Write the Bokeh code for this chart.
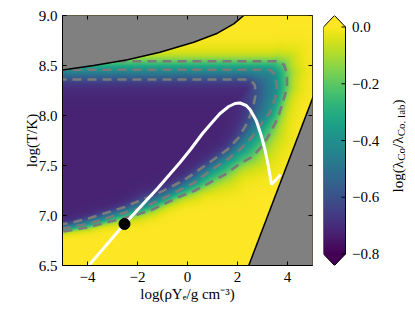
import math
import numpy as np
from bokeh.plotting import figure
from bokeh.layouts import row
from bokeh.models import LinearColorMapper, FixedTicker, Range1d, Label
from bokeh.core.properties import value
from bokeh.palettes import Viridis256
from bokeh.embed import file_html
from bokeh.resources import INLINE

# ---------------- data ----------------
x_ticks = [-4, -2, 0, 2, 4]
x_tick_labels = ["−4", "−2", "0", "2", "4"]
t_ticks = [6.5, 7.0, 7.5, 8.0, 8.5, 9.0]
t_tick_labels = ["6.5", "7.0", "7.5", "8.0", "8.5", "9.0"]
cb_ticks = [-0.8, -0.6, -0.4, -0.2, 0.0]
cb_tick_labels = ["−0.8", "−0.6", "−0.4", "−0.2", "0.0"]

# excluded region, upper left (boundary curve)
upper_bound_x = [-5.0, -3.75, -2.4, -1.1, 0.25, 1.2, 1.85, 2.25]
upper_bound_t = [8.455, 8.50, 8.557, 8.633, 8.733, 8.823, 8.917, 9.0]
# excluded region, lower right (boundary line)
lower_bound_x = [2.45, 5.0]
lower_bound_t = [6.5, 8.17]

# contour lines of log(lambda/lambda_lab), clockwise from the top-left
c06_x = [-5.2, 2.3, 2.55, 2.70, 2.72, 2.62, 2.40, 2.05, 1.60, 1.10, 0.65, 0.25,
         -0.10, -0.70, -1.20, -1.90, -2.50, -3.20, -3.90, -4.60, -5.20]
c06_t = [8.36, 8.36, 8.35, 8.30, 8.20, 8.08, 7.93, 7.78, 7.66, 7.57, 7.49, 7.42,
         7.36, 7.28, 7.22, 7.15, 7.085, 7.03, 6.975, 6.93, 6.905]
c04_x = [-5.2, 3.30, 3.50, 3.58, 3.52, 3.30, 2.95, 2.60, 2.10, 1.60, 1.05, 0.60,
         0.30, -0.35, -0.90, -1.50, -2.20, -2.90, -3.50, -4.20, -5.20]
c04_t = [8.457, 8.457, 8.41, 8.30, 8.18, 8.03, 7.92, 7.79, 7.66, 7.56, 7.47, 7.39,
         7.33, 7.25, 7.18, 7.11, 7.05, 7.00, 6.95, 6.905, 6.86]
c02_x = [-5.2, 3.55, 3.85, 3.98, 3.98, 3.80, 3.60, 3.32, 3.00, 2.60, 2.05, 1.50,
         0.90, 0.30, -0.30, -0.90, -1.40, -2.00, -2.60, -3.40, -4.00, -5.20]
c02_t = [8.543, 8.543, 8.51, 8.42, 8.28, 8.12, 7.97, 7.83, 7.70, 7.59, 7.51, 7.41,
         7.33, 7.25, 7.19, 7.12, 7.06, 7.01, 6.97, 6.92, 6.88, 6.83]
levels = [-0.6, -0.4, -0.2]
core_value = -0.72

# trajectory (white curve) and marked point
traj_x = [-3.95, -2.52, -1.20, -0.30, 0.12, 0.60, 1.05, 1.30, 1.65, 1.90, 2.10, 2.35,
          2.50, 2.75, 2.95, 3.10, 3.22, 3.30, 3.36, 3.55, 3.72]
traj_t = [6.50, 6.915, 7.27, 7.53, 7.66, 7.82, 7.95, 8.02, 8.09, 8.12, 8.125, 8.10,
          8.06, 7.95, 7.80, 7.66, 7.51, 7.40, 7.31, 7.36, 7.41]
point_x = [-2.52]
point_t = [6.915]

X0, X1, T0, T1 = -5.0, 5.0, 6.5, 9.0
VMIN, VMAX = -0.8, 0.0

# ---------------- field interpolated between the read contours ----------------
NX, NY = 250, 250
SX, ST = 250 / (X1 - X0), 250 / (T1 - T0)   # px per unit
xs = X0 + (np.arange(NX) + 0.5) * (X1 - X0) / NX
ts = T0 + (np.arange(NY) + 0.5) * (T1 - T0) / NY
XX, TT = np.meshgrid(xs, ts)
P = np.stack([(XX.ravel() - X0) * SX, (TT.ravel() - T0) * ST], axis=1)


def to_px(xa, ta):
    return np.stack([(np.asarray(xa) - X0) * SX, (np.asarray(ta) - T0) * ST], axis=1)


def poly_dist(P, V):
    A, B = V[:-1], V[1:]
    AB = B - A
    AP = P[:, None, :] - A[None, :, :]
    den = (AB ** 2).sum(1)
    den[den == 0] = 1e-9
    t = np.clip((AP * AB[None]).sum(2) / den[None], 0, 1)
    C = A[None] + t[..., None] * AB[None]
    return np.sqrt(((P[:, None, :] - C) ** 2).sum(2)).min(1)


def inside(P, V):
    Vc = np.vstack([V, V[:1]])
    x, y = P[:, 0][:, None], P[:, 1][:, None]
    x1, y1 = Vc[:-1, 0][None], Vc[:-1, 1][None]
    x2, y2 = Vc[1:, 0][None], Vc[1:, 1][None]
    cond = (y1 > y) != (y2 > y)
    dy = np.where(y2 == y1, 1e-9, y2 - y1)
    xint = x1 + (y - y1) * (x2 - x1) / dy
    return ((cond & (x < xint)).sum(1) % 2) == 1


V3, V2, V1 = to_px(c06_x, c06_t), to_px(c04_x, c04_t), to_px(c02_x, c02_t)
d1, d2, d3 = poly_dist(P, V1), poly_dist(P, V2), poly_dist(P, V3)
in1, in2, in3 = inside(P, V1), inside(P, V2), inside(P, V3)
l3, l2, l1 = levels
v = np.zeros(len(P))
m = ~in1
s = np.maximum(d2 - d1, 2.0)
v[m] = l1 * np.exp(-d1[m] / (0.8 * s[m]))
m = in1 & ~in2
v[m] = l1 + (l2 - l1) * d1[m] / (d1[m] + d2[m] + 1e-9)
m = in2 & ~in3
v[m] = l2 + (l3 - l2) * d2[m] / (d2[m] + d3[m] + 1e-9)
m = in3
s3 = np.maximum(d2 - d3, 2.0)
amp = l3 - core_value
v[m] = l3 - amp * (1 - np.exp(-d3[m] * 0.2 / (amp * s3[m])))
field = v.reshape(NY, NX)

# ---------------- main figure ----------------
FONT = "Liberation Serif"
FS = "15px"
TICK = 4  # px
mapper = LinearColorMapper(palette=Viridis256, low=VMIN, high=VMAX)

p = figure(frame_width=250, frame_height=250, x_range=Range1d(X0, X1), y_range=Range1d(T0, T1),
           output_backend="svg", toolbar_location=None,
           min_border_left=62, min_border_top=15, min_border_bottom=30, min_border_right=3)
p.grid.visible = False
p.outline_line_color = "black"
p.background_fill_color = "white"

p.image(image=[field], x=X0, y=T0, dw=X1 - X0, dh=T1 - T0, color_mapper=mapper)
p.multi_line(xs=[c06_x, c04_x, c02_x], ys=[c06_t, c04_t, c02_t],
             line_color="#7a7a7a", line_width=2.6, line_dash="9 6")
p.line(traj_x, traj_t, line_color="white", line_width=3)

# excluded regions
ux = [upper_bound_x[0] - 0.2] + upper_bound_x + [upper_bound_x[-1] + 0.1, upper_bound_x[0] - 0.2]
ut = [upper_bound_t[0]] + upper_bound_t + [T1 + 0.1, T1 + 0.1]
p.patch(ux, ut, fill_color="#808080", line_color=None)
p.line(upper_bound_x, upper_bound_t, line_color="black", line_width=1.5)
slope = (lower_bound_t[1] - lower_bound_t[0]) / (lower_bound_x[1] - lower_bound_x[0])
lx = [lower_bound_x[0] - 0.1 / slope, lower_bound_x[1] + 0.2, lower_bound_x[1] + 0.2, lower_bound_x[0] - 0.1 / slope]
lt = [lower_bound_t[0] - 0.1, lower_bound_t[1] + 0.2 * slope, T0 - 0.1, T0 - 0.1]
p.patch(lx, lt, fill_color="#808080", line_color=None)
p.line([lx[0], lx[1]], [lt[0], lt[1]], line_color="black", line_width=1.5)

p.scatter(point_x, point_t, size=11, color="black")

# mirrored tick marks on top and right edges
p.segment(x0=x_ticks, y0=[T1] * len(x_ticks), x1=x_ticks, y1=[T1 - TICK / ST] * len(x_ticks),
          line_color="black", line_width=1)
p.segment(x0=[X1] * len(t_ticks), y0=t_ticks, x1=[X1 - TICK / SX] * len(t_ticks), y1=t_ticks,
          line_color="black", line_width=1)

for ax in (p.xaxis[0], p.yaxis[0]):
    ax.major_tick_in = TICK
    ax.major_tick_out = 0
    ax.minor_tick_line_color = None
    ax.axis_line_color = "black"
    ax.major_label_text_font = FONT
    ax.major_label_text_font_size = FS
    ax.major_label_text_color = "black"
    ax.axis_label_text_font = FONT
    ax.axis_label_text_font_size = FS
    ax.axis_label_text_font_style = "normal"
    ax.axis_label_text_color = "black"
p.xaxis[0].major_label_standoff = 6
p.yaxis[0].major_label_standoff = 5
p.xaxis[0].ticker = FixedTicker(ticks=x_ticks)
p.xaxis[0].major_label_overrides = {float(k): l for k, l in zip(x_ticks, x_tick_labels)}
p.yaxis[0].ticker = FixedTicker(ticks=t_ticks)
p.yaxis[0].major_label_overrides = {float(k): l for k, l in zip(t_ticks, t_tick_labels)}
p.xaxis[0].axis_label = "log(ρYₑ/g cm⁻³)"
p.yaxis[0].axis_label = "log(T/K)"
p.xaxis[0].axis_label_standoff = 1
p.yaxis[0].axis_label_standoff = -4

# ---------------- colour bar (frame in px along x, data units along y) ----------------
EXT = 0.0405
CBW = 22      # bar width, px
CBF = 82      # frame width, px (bar + labels + title)
cb = figure(frame_width=CBF, frame_height=250, x_range=Range1d(0, CBF),
            y_range=Range1d(VMIN - EXT, VMAX + EXT), output_backend="svg",
            toolbar_location=None, x_axis_location=None, y_axis_location=None,
            min_border_left=8, min_border_top=15, min_border_bottom=30, min_border_right=2)
cb.grid.visible = False
cb.outline_line_color = None
grad = np.linspace(VMIN, VMAX, 256).reshape(256, 1)
cb.image(image=[grad], x=0, y=VMIN, dw=CBW, dh=VMAX - VMIN, color_mapper=mapper)
cb.patch([0, CBW, CBW / 2], [VMAX, VMAX, VMAX + EXT], fill_color=Viridis256[-1], line_color=None)
cb.patch([0, CBW, CBW / 2], [VMIN, VMIN, VMIN - EXT], fill_color=Viridis256[0], line_color=None)
cb.line([0, 0, CBW / 2, CBW, CBW, CBW / 2, 0], [VMIN, VMAX, VMAX + EXT, VMAX, VMIN, VMIN - EXT, VMIN],
        line_color="black", line_width=1)
cb.segment(x0=[CBW - TICK] * len(cb_ticks), y0=cb_ticks, x1=[CBW] * len(cb_ticks), y1=cb_ticks,
           line_color="black", line_width=1)
cb.text(x=[CBW + 6.5] * len(cb_ticks), y=cb_ticks, text=cb_tick_labels,
        text_font=value(FONT), text_font_size=value(FS), text_align="left",
        text_baseline="middle", text_color="black")

# colour-bar title built from pieces (subscripts smaller and shifted)
PX_PER_Y = 250 / (VMAX - VMIN + 2 * EXT)
pieces = [("log(λ", "15px", 0.0, 31.7), ("Co", "11px", 3.5, 12.8), ("/λ", "15px", 0.0, 11.7),
          ("Co, lab", "11px", 3.5, 31.8), (")", "15px", 0.0, 5.0)]
ypos = -0.583
for txt, fs, shift, w in pieces:
    cb.add_layout(Label(x=74 + shift, y=ypos, text=txt, angle=math.pi / 2,
                        text_font=FONT, text_font_size=fs, text_baseline="alphabetic",
                        text_align="left", text_color="black"))
    ypos += w / PX_PER_Y

layout = row(p, cb)
open("out.html", "w").write(file_html(layout, INLINE))
